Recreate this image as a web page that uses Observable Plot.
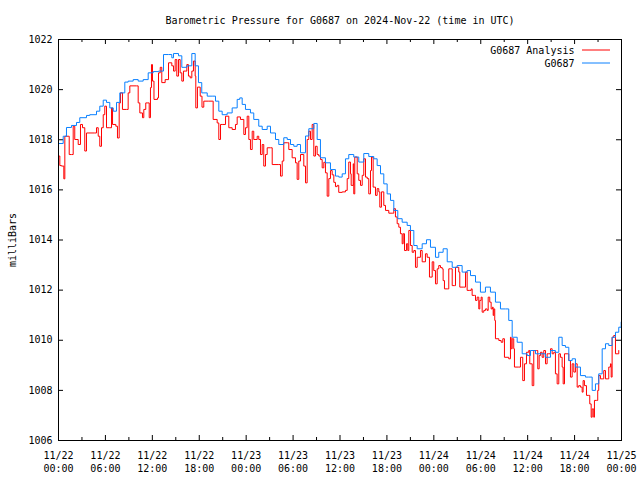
<!DOCTYPE html>
<html>
<head>
<meta charset="utf-8">
<script src="https://cdn.jsdelivr.net/npm/d3@7"></script>
<script src="https://cdn.jsdelivr.net/npm/@observablehq/plot@0.6"></script>
<style>
  html, body { margin: 0; padding: 0; background: #fff; }
</style>
</head>
<body>
<div id="chart"></div>
<script>
const titleText = "Barometric Pressure for G0687 on 2024-Nov-22 (time in UTC)";
const yLabel = "milliBars";
const seriesNames = ["G0687 Analysis", "G0687"];
const seriesColors = ["#ff0000", "#0a80ff"];
const startTime = "2024-11-22T00:00:00Z";
const yTicks = [1006, 1008, 1010, 1012, 1014, 1016, 1018, 1020, 1022];
const xMajorHours = [0, 6, 12, 18, 24, 30, 36, 42, 48, 54, 60, 66, 72];
const xMinorHours = [3, 9, 15, 21, 27, 33, 39, 45, 51, 57, 63, 69];

// G0687 (observed) — hours since start, pressure in mb
const obsHours = [0.09,0.60,1.02,1.66,2.30,2.72,3.58,4.00,4.86,5.28,5.72,6.14,6.56,7.00,7.42,7.84,8.48,8.91,9.55,10.19,10.83,11.47,12.11,12.79,13.43,14.07,14.49,14.71,15.35,15.77,16.41,17.05,17.48,17.90,18.32,19.02,19.65,20.08,20.50,20.93,21.57,22.21,22.85,23.18,23.49,23.91,24.55,24.97,25.61,26.05,26.69,27.11,27.75,28.17,28.81,29.25,29.67,30.09,30.52,30.95,31.59,32.01,32.65,33.08,33.50,34.14,34.78,35.42,35.84,36.28,36.70,37.12,37.76,38.40,39.04,39.68,40.32,40.75,41.18,41.60,42.03,42.46,42.88,43.39,43.95,44.59,45.01,45.44,45.87,46.51,47.06,47.57,48.21,48.63,49.19,49.71,50.35,50.98,51.62,52.26,52.69,53.33,53.96,54.60,55.24,55.88,56.52,57.16,57.58,58.02,58.66,59.30,59.94,60.36,61.00,61.64,62.28,62.92,63.55,63.98,64.41,64.83,65.26,65.69,66.11,66.75,67.39,67.81,68.25,68.67,69.09,69.53,69.95,70.37,70.80,71.23,71.65,71.96];
const obsValues = [1017.85,1018.14,1018.49,1018.57,1018.69,1018.88,1018.97,1019.00,1019.14,1019.34,1019.58,1019.49,1019.27,1019.14,1019.49,1019.87,1020.30,1020.34,1020.40,1020.34,1020.40,1020.67,1020.72,1020.74,1021.40,1021.40,1021.27,1021.44,1021.35,1020.89,1020.95,1021.44,1020.95,1020.28,1019.87,1019.74,1019.74,1019.54,1019.14,1019.00,1019.07,1019.27,1019.61,1019.67,1019.41,1019.21,1019.07,1018.81,1018.54,1018.41,1018.54,1018.27,1018.01,1017.81,1018.08,1018.01,1017.81,1017.74,1017.81,1017.48,1018.15,1018.44,1018.65,1018.01,1017.28,1017.08,1016.81,1016.55,1016.51,1016.64,1017.24,1017.41,1017.31,1017.11,1017.45,1017.33,1017.24,1016.97,1016.64,1016.24,1015.84,1015.58,1015.18,1014.85,1014.71,1014.58,1014.38,1013.78,1013.65,1013.85,1014.01,1013.71,1013.31,1013.51,1013.65,1013.13,1012.91,1012.98,1012.72,1012.78,1012.58,1012.32,1011.92,1012.12,1011.92,1011.52,1011.25,1011.25,1010.79,1010.12,1009.92,1009.46,1009.39,1009.59,1009.46,1009.46,1009.32,1009.59,1009.52,1010.12,1009.79,1009.72,1009.19,1009.26,1008.93,1008.59,1008.53,1008.53,1008.00,1008.26,1008.66,1009.66,1009.86,1009.79,1010.12,1010.32,1010.52,1010.72];

// G0687 Analysis — hours since start, pressure in mb
const anaHours = [0.09,0.17,0.38,0.68,0.81,1.24,1.37,1.66,1.88,2.08,2.52,2.81,3.07,3.36,3.58,4.64,4.86,5.08,5.28,5.50,5.72,5.92,6.14,6.56,6.78,6.91,7.33,7.54,7.76,7.93,8.18,8.70,8.91,9.12,9.97,10.19,10.40,10.74,10.91,11.16,11.34,11.60,11.76,11.89,12.02,12.21,12.66,12.79,13.01,13.21,13.64,14.07,14.49,14.71,14.92,15.13,15.35,15.56,15.77,15.98,16.20,16.41,16.62,16.84,17.05,17.26,17.48,17.56,17.77,18.12,18.35,18.58,19.22,19.65,19.78,20.29,20.50,20.72,20.93,21.36,21.78,22.21,22.63,22.85,23.27,23.70,23.91,24.13,24.34,24.55,24.77,24.97,25.41,25.61,25.83,26.05,26.25,26.47,26.69,27.11,27.33,28.17,28.39,28.61,28.81,29.25,29.45,29.88,30.31,30.52,30.73,30.95,31.37,31.59,31.80,32.01,32.23,32.44,32.65,32.86,33.08,33.29,33.50,33.72,33.93,34.14,34.36,34.57,34.78,35.00,35.21,35.42,35.64,35.84,36.28,36.70,36.92,37.12,37.34,37.43,37.69,37.76,37.89,38.20,38.40,38.62,38.84,39.04,39.26,39.48,39.68,39.90,40.03,40.24,40.54,40.75,40.96,41.09,41.30,41.60,41.82,42.24,42.67,42.88,43.09,43.31,43.52,43.73,43.95,44.08,44.25,44.50,44.67,44.80,45.01,45.23,45.44,45.65,45.87,46.29,46.51,46.93,47.15,47.44,47.79,47.99,48.21,48.43,48.63,48.85,49.07,49.19,49.36,49.71,49.91,50.13,50.35,50.64,50.77,51.19,51.32,51.83,52.05,52.26,52.60,52.78,52.90,53.20,53.33,53.54,53.75,53.88,54.05,54.18,54.39,54.60,54.82,54.95,55.15,55.33,55.50,55.59,55.67,55.79,55.88,56.31,56.61,56.82,57.03,57.58,57.80,57.89,58.02,58.22,58.31,58.86,59.08,59.37,59.59,59.85,60.14,60.27,60.58,60.78,61.13,61.29,61.47,61.64,61.85,62.06,62.28,62.49,62.70,62.92,63.13,63.34,63.55,63.77,63.98,64.19,64.41,64.54,64.71,65.05,65.26,65.47,65.69,65.90,66.11,66.33,66.53,66.75,66.97,67.09,67.26,67.52,67.81,67.94,68.12,68.25,68.45,68.54,68.80,68.96,69.09,69.31,69.53,69.73,69.95,70.17,70.37,70.59,70.68,70.80,71.01,71.23,71.44,71.65];
const anaValues = [1017.35,1016.97,1016.95,1016.44,1018.14,1018.14,1017.41,1017.41,1018.54,1018.01,1017.81,1018.61,1018.48,1017.55,1018.27,1018.27,1018.48,1018.14,1017.74,1018.48,1019.00,1019.34,1018.48,1018.48,1019.27,1018.61,1018.54,1018.07,1019.47,1019.87,1019.21,1019.21,1019.87,1020.15,1020.15,1019.47,1019.07,1018.88,1019.21,1019.47,1019.47,1018.88,1020.08,1021.00,1020.34,1019.61,1019.67,1020.67,1020.89,1020.28,1020.40,1021.07,1020.95,1020.74,1021.20,1020.54,1021.20,1020.67,1020.34,1020.74,1020.74,1021.00,1020.54,1020.47,1020.74,1021.14,1020.54,1019.27,1020.10,1019.74,1019.30,1019.54,1019.54,1019.54,1018.81,1018.67,1018.01,1018.61,1018.61,1018.94,1018.48,1018.41,1018.61,1018.91,1018.81,1018.21,1018.48,1018.94,1018.01,1017.61,1018.34,1018.01,1018.14,1018.01,1017.41,1017.81,1016.95,1017.41,1017.68,1017.68,1017.01,1017.01,1016.55,1017.15,1017.88,1017.88,1017.61,1017.28,1017.08,1016.42,1017.15,1017.41,1016.95,1016.28,1018.01,1018.34,1018.01,1018.61,1017.35,1017.74,1017.41,1017.35,1017.21,1016.88,1017.10,1016.68,1015.75,1016.45,1016.77,1016.60,1016.30,1016.13,1016.18,1015.90,1015.92,1015.98,1016.45,1017.11,1016.64,1016.18,1017.04,1015.84,1017.31,1016.64,1016.38,1016.18,1016.58,1017.24,1016.51,1016.45,1015.84,1016.77,1017.31,1016.11,1015.78,1016.05,1015.92,1015.31,1015.92,1015.38,1015.18,1015.07,1015.07,1015.25,1014.92,1014.65,1014.51,1014.25,1013.85,1014.25,1013.58,1013.85,1013.58,1014.38,1013.78,1013.51,1013.58,1012.91,1013.31,1013.58,1013.13,1013.45,1013.31,1012.52,1013.13,1012.78,1012.25,1012.85,1012.98,1012.90,1012.85,1012.38,1012.05,1012.05,1012.85,1012.85,1012.18,1012.18,1012.91,1012.72,1012.12,1012.12,1012.72,1011.99,1011.99,1012.05,1011.79,1011.79,1011.59,1011.72,1011.25,1011.59,1011.72,1011.12,1011.19,1011.25,1011.19,1011.72,1011.52,1011.25,1011.32,1010.99,1011.25,1010.79,1010.06,1009.99,1009.92,1010.06,1009.32,1009.26,1010.12,1009.66,1010.06,1009.66,1008.93,1008.93,1009.32,1008.39,1009.06,1009.52,1009.59,1009.06,1008.19,1009.59,1009.59,1008.86,1009.39,1009.52,1009.32,1009.59,1009.06,1009.46,1009.46,1009.66,1009.46,1009.52,1008.66,1008.26,1009.46,1009.32,1008.93,1008.26,1009.46,1009.46,1009.19,1008.53,1009.06,1008.73,1009.06,1008.13,1008.19,1008.13,1007.93,1008.39,1008.19,1007.80,1007.80,1007.46,1006.93,1007.26,1006.93,1007.60,1007.60,1008.00,1008.59,1008.46,1008.46,1008.79,1008.46,1008.46,1008.93,1009.06,1008.53,1010.12,1010.19,1009.46,1009.46,1009.59];

const t0 = new Date(startTime);
const toDate = h => new Date(t0.getTime() + h * 3600e3);

const obs = obsHours.map((h, i) => ({t: toDate(h), v: obsValues[i]}));
const ana = anaHours.map((h, i) => ({t: toDate(h), v: anaValues[i]}));
const majors = xMajorHours.map(toDate);
const minors = xMinorHours.map(toDate);
const xDomain = [toDate(0), toDate(72)];
const yDomain = [1006, 1022];

const mLeft = 58, mRight = 19, mTop = 39, mBottom = 40;
const W = 640, H = 480;
const innerW = W - mLeft - mRight, innerH = H - mTop - mBottom;
// tick lengths expressed in data units
const majorLenY = (yDomain[1] - yDomain[0]) * 5 / innerH;
const minorLenY = (yDomain[1] - yDomain[0]) * 3 / innerH;
const majorLenXh = 72 * 5 / innerW;

const fmt = d3.utcFormat("%m/%d\n%H:%M");
const font = "'DejaVu Sans Mono', 'Liberation Mono', monospace";

const plot = Plot.plot({
  width: W, height: H,
  marginLeft: mLeft, marginRight: mRight, marginTop: mTop, marginBottom: mBottom,
  style: {fontFamily: font, fontSize: "10px", color: "black", background: "white"},
  x: {type: "utc", domain: xDomain},
  y: {domain: yDomain},
  marks: [
    Plot.axisX({ticks: majors, tickSize: 0, tickPadding: 9, tickFormat: fmt, lineHeight: 1.3, label: null, fontSize: 10}),
    Plot.axisY({ticks: yTicks, tickSize: 0, tickPadding: 6, tickFormat: d => String(d), label: yLabel, labelAnchor: "center", labelArrow: "none", labelOffset: 50, fontSize: 10}),
    // inward ticks, bottom & top
    Plot.ruleX(majors, {x: d => d, y1: yDomain[0], y2: yDomain[0] + majorLenY, stroke: "black"}),
    Plot.ruleX(majors, {x: d => d, y1: yDomain[1], y2: yDomain[1] - majorLenY, stroke: "black"}),
    Plot.ruleX(minors, {x: d => d, y1: yDomain[0], y2: yDomain[0] + minorLenY, stroke: "black"}),
    Plot.ruleX(minors, {x: d => d, y1: yDomain[1], y2: yDomain[1] - minorLenY, stroke: "black"}),
    // inward ticks, left & right
    Plot.ruleY(yTicks, {y: d => d, x1: toDate(0), x2: toDate(majorLenXh), stroke: "black"}),
    Plot.ruleY(yTicks, {y: d => d, x1: toDate(72), x2: toDate(72 - majorLenXh), stroke: "black"}),
    Plot.line(ana, {x: "t", y: "v", stroke: seriesColors[0], strokeWidth: 1, curve: "step-after"}),
    Plot.line(obs, {x: "t", y: "v", stroke: seriesColors[1], strokeWidth: 1, curve: "step-after"}),
    Plot.frame({stroke: "black"}),
    Plot.text([titleText], {text: d => d, frameAnchor: "top", dy: -19, lineAnchor: "middle", fontSize: 10}),
    Plot.text([seriesNames[0]], {text: d => d, frameAnchor: "top-right", dx: -47, dy: 11, textAnchor: "end", lineAnchor: "middle", fontSize: 10}),
    Plot.text([seriesNames[1]], {text: d => d, frameAnchor: "top-right", dx: -47, dy: 24, textAnchor: "end", lineAnchor: "middle", fontSize: 10})
  ]
});

// legend line samples
const svg = d3.select(plot);
[0, 1].forEach(i => {
  svg.append("line")
    .attr("x1", W - mRight - 39).attr("x2", W - mRight - 11)
    .attr("y1", mTop + 11 + i * 13).attr("y2", mTop + 11 + i * 13)
    .attr("stroke", seriesColors[i]).attr("stroke-width", 1);
});

document.getElementById("chart").appendChild(plot);
</script>
</body>
</html>
